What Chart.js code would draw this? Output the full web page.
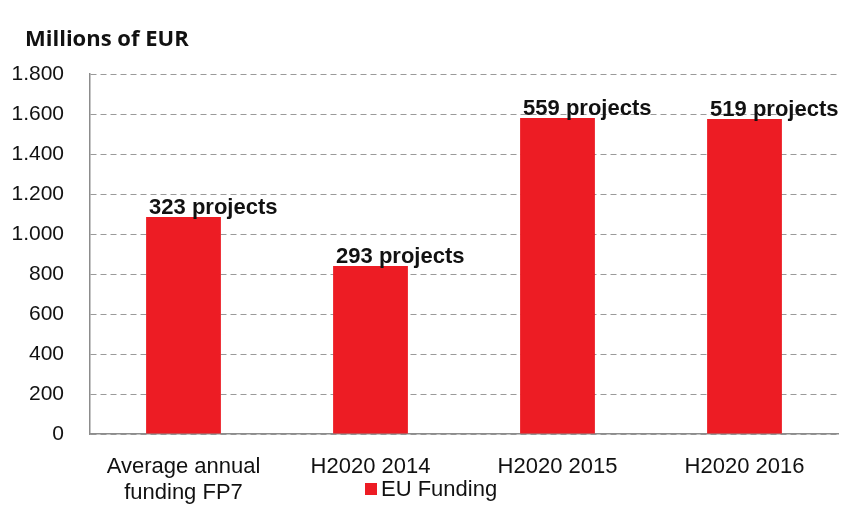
<!DOCTYPE html>
<html>
<head>
<meta charset="utf-8">
<script src="https://cdn.jsdelivr.net/npm/chart.js@4.4.0/dist/chart.umd.min.js"></script>
<style>
  html, body { margin: 0; padding: 0; background: #fff; }
  #wrap { width: 841px; height: 524px; }
</style>
</head>
<body>
<div id="wrap"><canvas id="fundingChart" width="841" height="524"></canvas></div>
<script>
// EU funding per call
const categories = [['Average annual', 'funding FP7'], 'H2020 2014', 'H2020 2015', 'H2020 2016'];
const fundingValues = [1085, 840, 1580, 1575];
const projectLabels = ['323 projects', '293 projects', '559 projects', '519 projects'];
const yTicks = [0, 200, 400, 600, 800, 1000, 1200, 1400, 1600, 1800];

const RED = '#ED1C24';
const SANS = '"Liberation Sans", Arial, sans-serif';

// labels above bars, left aligned with the bar
const barLabels = {
    id: 'barLabels',
    afterDatasetsDraw(chart) {
        const ctx = chart.ctx;
        const meta = chart.getDatasetMeta(0);
        ctx.save();
        ctx.font = 'bold 22px ' + SANS;
        ctx.fillStyle = '#111';
        ctx.textBaseline = 'bottom';
        ctx.textAlign = 'left';
        meta.data.forEach((bar, i) => {
            const left = bar.x - bar.width / 2;
            ctx.fillText(projectLabels[i], left + 3, bar.y + 2);
        });
        ctx.restore();
    }
};

// title and legend drawn by hand
const extras = {
    id: 'extras',
    afterDraw(chart) {
        const ctx = chart.ctx;
        ctx.save();
        ctx.font = 'bold 22px "Open Sans", "Liberation Sans", sans-serif';
        ctx.fillStyle = '#111';
        ctx.textBaseline = 'middle';
        ctx.fillText('Millions of EUR', 25, 40);

        ctx.fillStyle = RED;
        ctx.fillRect(365, 483, 12, 12);
        ctx.fillStyle = '#111';
        ctx.font = '22px ' + SANS;
        ctx.fillText(chart.data.datasets[0].label, 381, 490);
        ctx.restore();
    }
};

new Chart(document.getElementById('fundingChart'), {
    type: 'bar',
    data: {
        labels: categories,
        datasets: [{
            label: 'EU Funding',
            data: fundingValues,
            backgroundColor: RED,
            categoryPercentage: 1,
            barPercentage: 0.4
        }]
    },
    options: {
        responsive: false,
        animation: false,
        layout: { padding: { top: 74, right: 3, left: 0, bottom: 0 } },
        plugins: {
            legend: { display: false },
            tooltip: { enabled: false }
        },
        scales: {
            x: {
                grid: { display: false, drawTicks: false },
                border: { color: '#8c8c8c', width: 1.5 },
                ticks: {
                    color: '#111',
                    font: { family: SANS, size: 22, lineHeight: 1.18 },
                    padding: 20,
                    maxRotation: 0
                },
                afterFit: s => { s.height = 90; }
            },
            y: {
                min: 0,
                max: 1800,
                afterBuildTicks: s => { s.ticks = yTicks.map(v => ({ value: v })); },
                grid: {
                    color: '#9a9a9a',
                    drawTicks: false,
                    lineWidth: 1
                },
                border: { color: '#8c8c8c', width: 1.5, dash: [6, 4] },
                ticks: {
                    color: '#111',
                    font: { family: SANS, size: 21 },
                    padding: 26,
                    callback: v => v.toLocaleString('de-DE')
                },
                afterFit: s => { s.width = 90; }
            }
        }
    },
    plugins: [barLabels, extras]
});
</script>
</body>
</html>
